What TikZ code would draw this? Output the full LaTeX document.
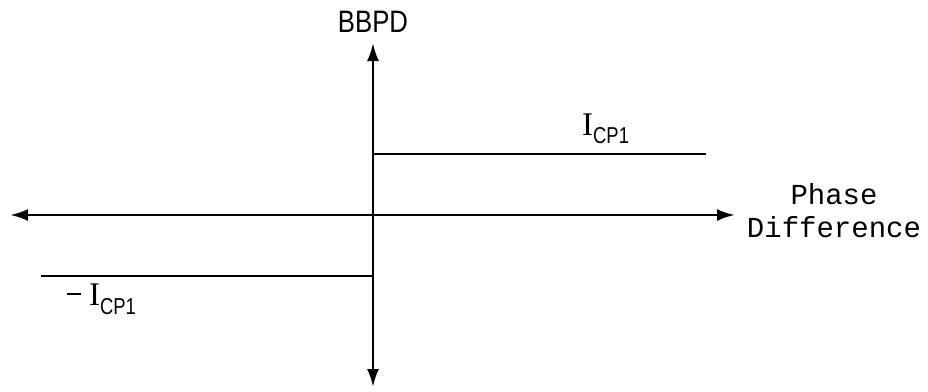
\documentclass[tikz,border=0pt]{standalone}
\usepackage{fontspec}
\setmainfont{Liberation Sans}[FakeStretch=0.83]
\newfontfamily\serifI{Liberation Serif}
\newfontfamily\subfont{Liberation Sans}[FakeStretch=0.8]
\newfontfamily\spacedfont{Liberation Mono}
\usetikzlibrary{arrows.meta}
\newcommand{\icp}[1]{{\serifI\fontsize{33}{33}\selectfont I}\raisebox{-#1}{\subfont\fontsize{23}{23}\selectfont CP1}}

\begin{document}
\begin{tikzpicture}
[x=1pt,y=-1pt,
axis/.style={line width=2.6pt,{Latex[length=18pt,width=12pt]}-{Latex[length=18pt,width=12pt]}},
level/.style={line width=2.6pt},
lbl/.style={inner sep=0pt,font=\fontsize{31}{31}\selectfont},
wide/.style={inner sep=0pt,align=center,font=\spacedfont\fontsize{29}{33}\selectfont}]
\useasboundingbox (0,0) rectangle (928,391);
\coordinate (top) at (373,43);
\coordinate (bot) at (373,387);
\coordinate (west) at (10,215);
\coordinate (east) at (735,215);
\coordinate (hi1) at (373,154);
\coordinate (hi2) at (706,154);
\coordinate (lo1) at (41,276);
\coordinate (lo2) at (373,276);
\node[lbl] (bbpd) at (373,22) {BBPD};
\node[lbl,anchor=base west] (ipos) at (582,135) {\icp{8pt}};
\node[lbl,anchor=base west] (ineg) at (67,305) {\rule[10pt]{14pt}{2.2pt}\hspace{8pt}\icp{9pt}};
\node[wide] (phase) at (834,211) {Phase\\Difference};
\draw[axis] (top) -- (bot);
\draw[axis] (west) -- (east);
\draw[level] (hi1) -- (hi2);
\draw[level] (lo1) -- (lo2);
\end{tikzpicture}
\end{document}
